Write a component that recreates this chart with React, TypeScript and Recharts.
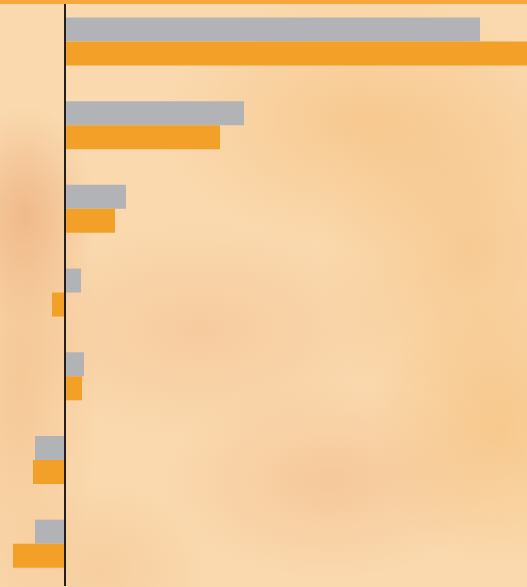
import React from 'react';
import { BarChart, Bar, XAxis, YAxis, ReferenceLine } from 'recharts';

const categories = ['Category 1', 'Category 2', 'Category 3', 'Category 4', 'Category 5', 'Category 6', 'Category 7'];
const grayValues = [41.5, 17.9, 6.1, 1.6, 1.9, -3.0, -3.0];
const orangeValues = [47.5, 15.5, 5.0, -1.3, 1.7, -3.2, -5.2];

const data = categories.map((name, i) => ({ name, gray: grayValues[i], orange: orangeValues[i] }));

const bg = [
  'radial-gradient(ellipse 70px 110px at 25px 215px, rgba(234,168,120,0.6), rgba(234,168,120,0) 100%)',
  'radial-gradient(ellipse 80px 260px at 20px 380px, rgba(240,180,125,0.45), rgba(240,180,125,0) 100%)',
  'radial-gradient(ellipse 200px 130px at 360px 120px, rgba(245,188,120,0.55), rgba(245,188,120,0) 100%)',
  'radial-gradient(ellipse 150px 200px at 470px 250px, rgba(245,190,125,0.55), rgba(245,190,125,0) 100%)',
  'radial-gradient(ellipse 200px 110px at 200px 330px, rgba(240,182,135,0.4), rgba(240,182,135,0) 100%)',
  'radial-gradient(ellipse 170px 100px at 330px 480px, rgba(240,180,130,0.45), rgba(240,180,130,0) 100%)',
  'radial-gradient(ellipse 130px 140px at 500px 430px, rgba(245,188,115,0.55), rgba(245,188,115,0) 100%)',
  'radial-gradient(ellipse 110px 90px at 100px 570px, rgba(240,185,130,0.35), rgba(240,185,130,0) 100%)',
  'linear-gradient(#fad9ae, #fad9ae)',
].join(', ');

export default function App() {
  return (
    <div style={{ position: 'fixed', left: 0, top: 0, width: 527, height: 587, background: bg, overflow: 'hidden' }}>
      <BarChart
        layout="vertical"
        width={527}
        height={587}
        data={data}
        margin={{ top: 0, right: 0, bottom: 1, left: 0 }}
        barCategoryGap="20.8%"
        barGap={0}
      >
        <XAxis type="number" hide domain={[-6.5, 46.2]} allowDataOverflow />
        <YAxis type="category" dataKey="name" hide />
        <Bar dataKey="gray" fill="#b2b3b6" isAnimationActive={false} />
        <Bar dataKey="orange" fill="#f2a027" isAnimationActive={false} />
        <ReferenceLine x={0} stroke="#231f20" strokeWidth={2} ifOverflow="extendDomain" />
      </BarChart>
      <div style={{ position: 'absolute', left: 0, top: 0, width: 527, height: 4, background: '#f7a83c' }} />
    </div>
  );
}
